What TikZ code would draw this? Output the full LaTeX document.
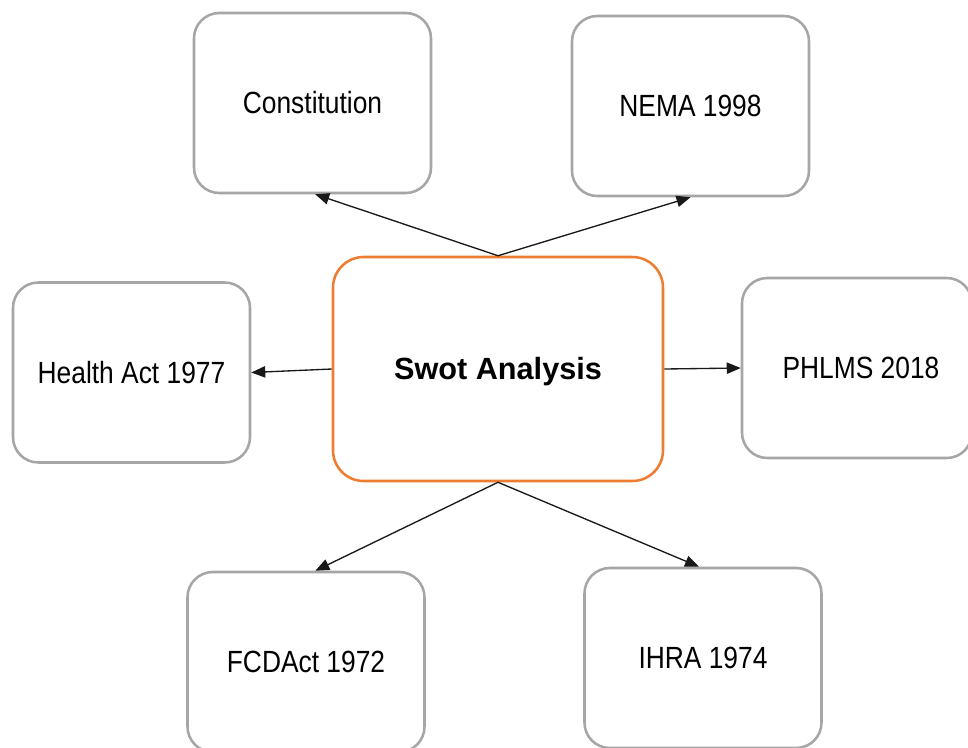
\documentclass[tikz,border=0pt]{standalone}
\usepackage{fontspec}
\setmainfont{Liberation Sans}[FakeStretch=0.86]
\newfontfamily\titlefont{Liberation Sans}
\usetikzlibrary{arrows.meta}
\definecolor{boxgray}{HTML}{A6A6A6}
\definecolor{swotorange}{HTML}{ED7D31}
\tikzset{
  acttext/.style={font=\fontsize{23pt}{27pt}\selectfont, text=black},
  actbox/.style={acttext, draw=boxgray, line width=1.9pt, rounded corners=19pt,
    minimum width=177.75pt, minimum height=135pt, align=center},
  swotbox/.style={draw=swotorange, line width=1.9pt, rounded corners=23pt,
    minimum width=247.5pt, minimum height=168pt, align=center},
  swottext/.style={font=\titlefont\bfseries\fontsize{23pt}{27pt}\selectfont},
  link/.style={draw=black!90, line width=1pt, -{Triangle[length=10.5pt, width=8.5pt]}}
}
\begin{document}
\begin{tikzpicture}[x=0.75pt, y=-0.75pt]
  \useasboundingbox (0,0) rectangle (968,747);
  \clip (0,0) rectangle (968,747);
  \fill[white] (0,0) rectangle (968,747);

  % central node
  \node[swotbox] (swot) at (498,369) {};
  \node[swottext] (swotlabel) at (498,372) {Swot Analysis};

  % surrounding acts
  \node[actbox] (const)  at (312.5,103)   {Constitution};
  \node[actbox] (nema)   at (690.5,106)   {NEMA 1998};
  \node[actbox] (health) at (131.5,372.5) {Health Act 1977};
  \node[actbox, minimum width=172.5pt] (phlms) at (857,368) {};
  \node[acttext] (phlmslabel) at (861,368) {PHLMS 2018};
  \node[actbox] (fcd)    at (306,662)     {FCDAct 1972};
  \node[actbox] (ihra)   at (703,658)     {IHRA 1974};

  % connectors
  \draw[link] (swot.north) -- ([xshift=2pt]const.south);
  \draw[link] (swot.north) -- (nema.south);
  \draw[link] (swot.west) -- (health.east);
  \draw[link] (swot.east) -- (phlms.west);
  \draw[link] (swot.south) -- ([xshift=7pt]fcd.north);
  \draw[link] (swot.south) -- ([xshift=-3pt]ihra.north);
\end{tikzpicture}
\end{document}
